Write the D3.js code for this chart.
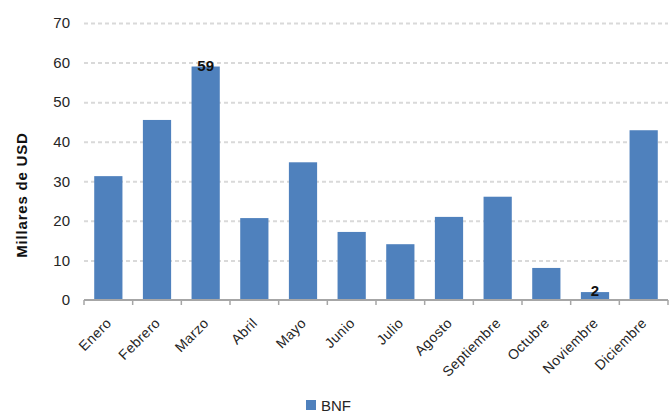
<!DOCTYPE html>
<html>
<head>
<meta charset="utf-8">
<script src="https://cdn.jsdelivr.net/npm/d3@7"></script>
<style>
  body { margin: 0; background: #fff; }
  svg { display: block; font-family: "Liberation Sans", Arial, sans-serif; }
</style>
</head>
<body>
<div id="chart"></div>
<script>
// Monthly values (thousands of USD)
const months = ["Enero", "Febrero", "Marzo", "Abril", "Mayo", "Junio", "Julio",
  "Agosto", "Septiembre", "Octubre", "Noviembre", "Diciembre"];
const bnf = [31.3, 45.5, 59, 20.7, 34.8, 17.2, 14.1, 21.0, 26.1, 8.1, 2, 42.9];
const labelled = ["Marzo", "Noviembre"];
const yTicks = [0, 10, 20, 30, 40, 50, 60, 70];
const seriesName = "BNF";

const W = 670, H = 416;
const margin = { top: 23, right: 2, bottom: 116, left: 84 };
const iW = W - margin.left - margin.right;
const iH = H - margin.top - margin.bottom;
const barColor = "#4f81bd";
const textColor = "#262626";

const svg = d3.select("#chart").append("svg")
  .attr("width", W).attr("height", H);

const g = svg.append("g")
  .attr("transform", `translate(${margin.left},${margin.top})`);

const x = d3.scaleBand().domain(months).range([0, iW]).paddingInner(0.42).paddingOuter(0.21);
const y = d3.scaleLinear().domain([0, 70]).range([iH, 0]);

// dashed gridlines
g.append("g")
  .call(d3.axisLeft(y).tickValues(yTicks.slice(1)).tickSize(-iW).tickFormat(""))
  .call((gEl) => {
    gEl.select(".domain").remove();
    gEl.selectAll("line")
      .style("stroke", "#d9d9d9")
      .style("stroke-width", 2)
      .style("stroke-dasharray", "4,3");
  });

// bars
g.selectAll("rect.bar")
  .data(months)
  .enter().append("rect")
  .attr("class", "bar")
  .attr("x", (d) => x(d))
  .attr("width", x.bandwidth())
  .attr("y", (d, i) => y(bnf[i]))
  .attr("height", (d, i) => iH - y(bnf[i]))
  .attr("fill", barColor);

// data labels
g.selectAll("text.val")
  .data(months.filter((m) => labelled.includes(m)))
  .enter().append("text")
  .attr("class", "val")
  .attr("x", (d) => x(d) + x.bandwidth() / 2)
  .attr("y", (d) => y(bnf[months.indexOf(d)]) + 4)
  .attr("text-anchor", "middle")
  .style("font-size", "15px")
  .style("font-weight", "bold")
  .style("fill", "#111")
  .text((d) => Math.round(bnf[months.indexOf(d)]));

// y axis labels
g.append("g")
  .call(d3.axisLeft(y).tickValues(yTicks).tickSize(0).tickPadding(14))
  .call((gEl) => {
    gEl.select(".domain").remove();
    gEl.selectAll("text")
      .style("fill", textColor)
      .style("font-size", "15px")
      .style("font-family", "'Liberation Sans', Arial, sans-serif");
  });

// x axis: line with ticks at category boundaries
const xAxis = g.append("g").attr("transform", `translate(0,${iH})`);
xAxis.append("line")
  .attr("x1", 0).attr("x2", iW)
  .attr("stroke", "#a6a6a6").attr("stroke-width", 2);
const step = x.step();
xAxis.selectAll("line.tick")
  .data(d3.range(months.length + 1))
  .enter().append("line")
  .attr("class", "tick")
  .attr("x1", (i) => x(months[0]) - x.paddingOuter() * step + i * step)
  .attr("x2", (i) => x(months[0]) - x.paddingOuter() * step + i * step)
  .attr("y1", 0).attr("y2", 5)
  .attr("stroke", "#a6a6a6").attr("stroke-width", 1.5);

xAxis.selectAll("text.cat")
  .data(months)
  .enter().append("text")
  .attr("class", "cat")
  .attr("transform", (d) => `translate(${x(d) + x.bandwidth() / 2 + 4},${24}) rotate(-45)`)
  .attr("text-anchor", "end")
  .style("font-size", "14px")
  .style("letter-spacing", "0.4px")
  .style("fill", textColor)
  .text((d) => d);

// y axis title
svg.append("text")
  .attr("transform", `translate(27,195) rotate(-90)`)
  .attr("text-anchor", "middle")
  .style("font-size", "15px")
  .style("font-weight", "bold")
  .style("letter-spacing", "0.8px")
  .style("fill", "#111")
  .text("Millares de USD");

// legend
const legend = svg.append("g").attr("transform", "translate(306,400)");
legend.append("rect").attr("width", 10).attr("height", 10).attr("fill", barColor);
legend.append("text").attr("x", 15).attr("y", 11)
  .style("font-size", "15px").style("fill", textColor).text(seriesName);
</script>
</body>
</html>
